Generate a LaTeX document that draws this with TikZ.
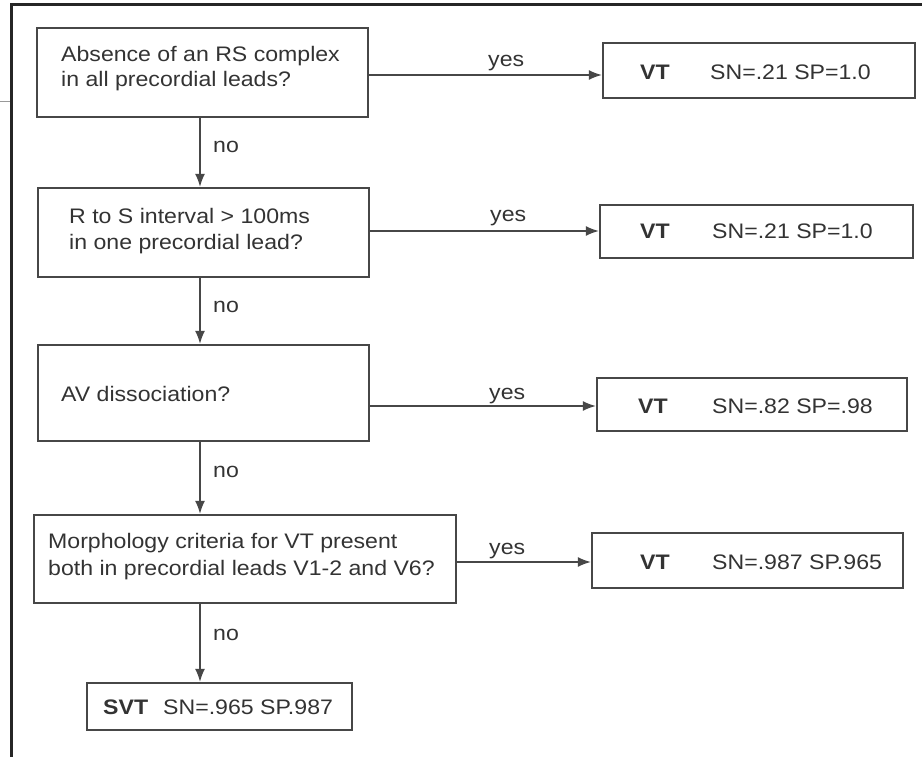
\documentclass[tikz,border=0pt]{standalone}
\usepackage{fontspec}
\setmainfont{Liberation Sans}[FakeStretch=1.1]
\usetikzlibrary{arrows.meta}
\begin{document}
\begin{tikzpicture}[x=1pt,y=-1pt,
  box/.style={draw=black!72,line width=2.2pt,inner sep=0pt},
  txt/.style={anchor=base west,inner sep=0pt,text=black!80,font=\fontsize{21}{25}\selectfont},
  btxt/.style={txt,font=\fontsize{21}{25}\selectfont\bfseries},
  arr/.style={draw=black!72,line width=1.6pt,-{Latex[length=13pt,width=10pt]}}]
\useasboundingbox (0,0) rectangle (922,757);
\fill[white] (0,0) rectangle (922,757);
% frame
\draw[black!85,line width=3pt] (11,757) -- (11,5) -- (922,5);
\draw[black!40,line width=1pt] (0,102) -- (10,102);
% question boxes
\node[box,minimum width=331pt,minimum height=89pt] (b1) at (202.5,72.5) {};
\node[box,minimum width=331pt,minimum height=89pt] (b2) at (203.5,232.5) {};
\node[box,minimum width=331pt,minimum height=96pt] (b3) at (203.5,393) {};
\node[box,minimum width=422pt,minimum height=88pt] (b4) at (245,559) {};
\node[box,minimum width=265pt,minimum height=47pt] (b5) at (219.5,706.5) {};
% result boxes
\node[box,minimum width=312pt,minimum height=55pt] (v1) at (759,70.5) {};
\node[box,minimum width=313pt,minimum height=53pt] (v2) at (756.5,231.5) {};
\node[box,minimum width=310pt,minimum height=53pt] (v3) at (752,404.5) {};
\node[box,minimum width=311pt,minimum height=55pt] (v4) at (747.5,560.5) {};
% texts
\node[txt] (t1a) at (61,62) {Absence of an RS complex};
\node[txt] (t1b) at (61,87) {in all precordial leads?};
\node[txt] (t2a) at (69,224) {R to S interval > 100ms};
\node[txt] (t2b) at (69,250) {in one precordial lead?};
\node[txt] (t3a) at (61,401) {AV dissociation?};
\node[txt] (t4a) at (48,548) {Morphology criteria for VT present};
\node[txt] (t4b) at (48,575) {both in precordial leads V1-2 and V6?};
\node[btxt] (s1) at (103,714) {SVT};
\node[txt] (s2) at (163,714) {SN=.965 SP.987};
\node[btxt] (r1a) at (640,80) {VT};
\node[txt] (r1b) at (710,80) {SN=.21 SP=1.0};
\node[btxt] (r2a) at (640,239) {VT};
\node[txt] (r2b) at (712,239) {SN=.21 SP=1.0};
\node[btxt] (r3a) at (638,413) {VT};
\node[txt] (r3b) at (712,413) {SN=.82 SP=.98};
\node[btxt] (r4a) at (640,569) {VT};
\node[txt] (r4b) at (712,569) {SN=.987 SP.965};
% connectors
\coordinate (cx) at (200,0);
\coordinate (y1) at (0,75);
\coordinate (y2) at (0,231);
\coordinate (y3) at (0,406);
\coordinate (y4) at (0,562);
\draw[arr] (b1.east |- y1) -- (v1.west |- y1);
\draw[arr] (b2.east |- y2) -- (v2.west |- y2);
\draw[arr] (b3.east |- y3) -- (v3.west |- y3);
\draw[arr] (b4.east |- y4) -- (v4.west |- y4);
\draw[arr] (b1.south -| cx) -- (b2.north -| cx);
\draw[arr] (b2.south -| cx) -- (b3.north -| cx);
\draw[arr] (b3.south -| cx) -- (b4.north -| cx);
\draw[arr] (b4.south -| cx) -- (b5.north -| cx);
% labels
\node[txt] (yes1) at (488,67) {yes};
\node[txt] (yes2) at (490,222) {yes};
\node[txt] (yes3) at (489,399) {yes};
\node[txt] (yes4) at (489,554) {yes};
\node[txt] (no1) at (213,153) {no};
\node[txt] (no2) at (213,312) {no};
\node[txt] (no3) at (213,477) {no};
\node[txt] (no4) at (213,640) {no};
\end{tikzpicture}
\end{document}
